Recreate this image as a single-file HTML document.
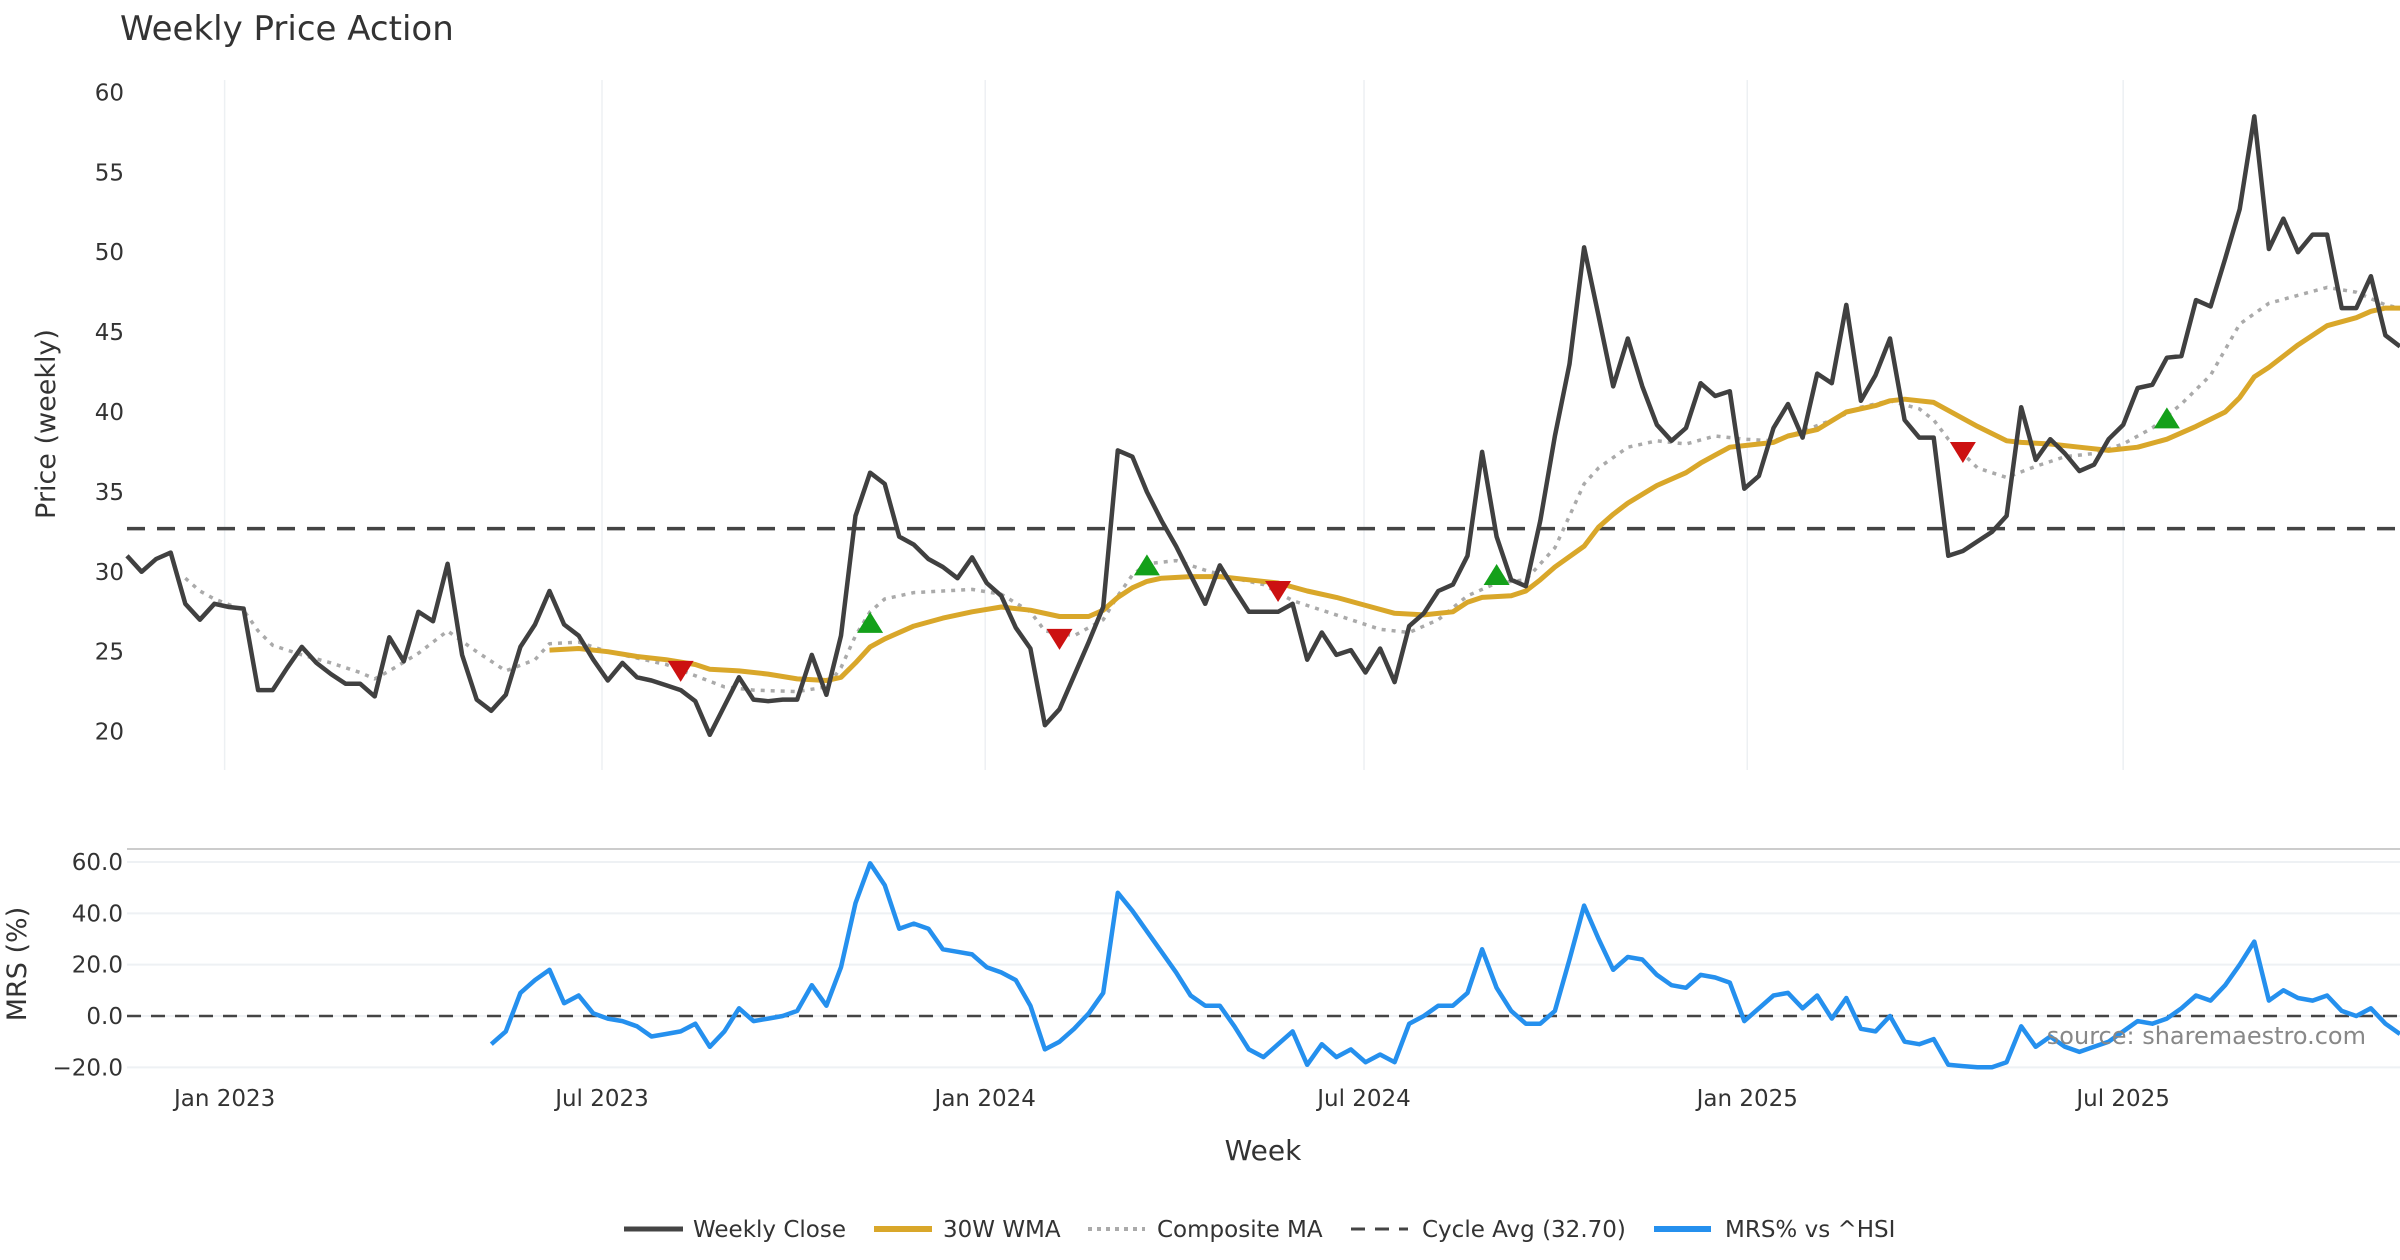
<!DOCTYPE html>
<html><head><meta charset="utf-8"><style>
html,body{margin:0;padding:0;background:#fff;}
svg{display:block;font-family:"DejaVu Sans","Liberation Sans",sans-serif;}
</style></head><body>
<svg id="chart" width="2400" height="1260" viewBox="0 0 2400 1260" xmlns="http://www.w3.org/2000/svg">
<rect width="2400" height="1260" fill="#fff"/>
<text x="120" y="40" font-size="34" fill="#333">Weekly Price Action</text>
<text transform="translate(55,424) rotate(-90)" text-anchor="middle" font-size="27" fill="#333">Price (weekly)</text>
<text transform="translate(26,964) rotate(-90)" text-anchor="middle" font-size="27" fill="#333">MRS (%)</text>
<text x="1263" y="1160" text-anchor="middle" font-size="28" fill="#333">Week</text>
<line x1="127" y1="849" x2="2400" y2="849" stroke="#ccc" stroke-width="2"/>
<g id="grid"></g>
<g id="series"></g>
<text x="2366" y="1044" text-anchor="end" font-size="24" fill="#888">source: sharemaestro.com</text>
<g id="legend">
<line x1="624" y1="1229" x2="683" y2="1229" stroke="#444" stroke-width="5"/>
<text x="693" y="1237" font-size="23" fill="#333">Weekly Close</text>
<line x1="874" y1="1229" x2="932" y2="1229" stroke="#d9a72a" stroke-width="6"/>
<text x="943" y="1237" font-size="23" fill="#333">30W WMA</text>
<line x1="1088" y1="1229" x2="1145" y2="1229" stroke="#aaa" stroke-width="4" stroke-dasharray="4,5"/>
<text x="1157" y="1237" font-size="23" fill="#333">Composite MA</text>
<line x1="1351" y1="1229" x2="1408" y2="1229" stroke="#444" stroke-width="3" stroke-dasharray="14,10"/>
<text x="1422" y="1237" font-size="23" fill="#333">Cycle Avg (32.70)</text>
<line x1="1654" y1="1229" x2="1711" y2="1229" stroke="#2590ee" stroke-width="6"/>
<text x="1725" y="1237" font-size="23" fill="#333">MRS% vs ^HSI</text>
</g>
</svg>
<script>
const closeValues=[31,30,30.8,31.2,28,27,28,27.8,27.7,22.6,22.6,24,25.3,24.3,23.6,23,23,22.2,25.9,24.4,27.5,26.9,30.5,24.8,22,21.3,22.3,25.3,26.7,28.8,26.7,26,24.5,23.2,24.3,23.4,23.2,22.9,22.6,21.9,19.8,21.6,23.4,22,21.9,22,22,24.8,22.3,26,33.5,36.2,35.5,32.2,31.7,30.8,30.3,29.6,30.9,29.3,28.5,26.5,25.2,20.4,21.4,23.5,25.6,27.8,37.6,37.2,35,33.2,31.6,29.8,28,30.4,28.9,27.5,27.5,27.5,28,24.5,26.2,24.8,25.1,23.7,25.2,23.1,26.6,27.4,28.8,29.2,31,37.5,32.2,29.5,29.1,33.2,38.5,43,50.3,46,41.6,44.6,41.6,39.2,38.2,39,41.8,41,41.3,35.2,36,39,40.5,38.4,42.4,41.8,46.7,40.7,42.3,44.6,39.5,38.4,38.4,31,31.3,31.9,32.5,33.5,40.3,37,38.3,37.4,36.3,36.7,38.3,39.2,41.5,41.7,43.4,43.5,47,46.6,49.6,52.7,58.5,50.2,52.1,50,51.1,51.1,46.5,46.5,48.5,44.8,44.1];
const wmaWeeks=[29,31,33,35,37,39,40,42,44,46,48,49,50,51,52,54,56,58,60,62,64,66,67,68,69,70,71,73,75,77,79,81,83,85,87,89,91,92,93,95,96,97,98,100,101,102,103,105,107,108,109,110,111,113,114,116,118,120,121,122,124,125,127,129,130,132,134,136,138,140,142,144,145,146,147,149,151,153,154,155,156];
const wmaValues=[25.1,25.2,25,24.7,24.5,24.2,23.9,23.8,23.6,23.3,23.2,23.4,24.3,25.3,25.8,26.6,27.1,27.5,27.8,27.6,27.2,27.2,27.6,28.4,29,29.4,29.6,29.7,29.7,29.5,29.3,28.8,28.4,27.9,27.4,27.3,27.5,28.1,28.4,28.5,28.8,29.5,30.3,31.6,32.8,33.6,34.3,35.4,36.2,36.8,37.3,37.8,37.9,38.1,38.5,38.9,40,40.4,40.7,40.8,40.6,40.1,39.1,38.2,38.1,38,37.8,37.6,37.8,38.3,39.1,40,40.9,42.2,42.8,44.2,45.4,45.9,46.3,46.5,46.5];
const maWeeks=[4,5,6,8,9,10,12,14,16,17,18,20,22,24,26,28,29,31,33,35,37,39,41,43,46,48,49,50,51,52,54,56,58,60,62,63,65,67,68,69,70,72,74,76,78,80,82,84,86,88,90,92,94,96,98,99,100,101,103,105,107,109,111,113,115,117,119,121,123,124,125,127,129,131,133,135,137,139,141,143,145,147,149,151,153,155,156];
const maValues=[29.6,28.8,28.3,27.6,26.3,25.4,24.8,24.3,23.7,23.3,23.8,24.9,26.3,25,23.8,24.5,25.5,25.6,25,24.6,24.2,23.5,22.8,22.6,22.5,22.8,24,26,27.5,28.3,28.7,28.8,28.9,28.6,27.5,26.3,26,27,28.5,29.8,30.5,30.7,30.1,29.6,29.2,28.2,27.6,27,26.4,26.2,27,28.5,29.3,29.5,31.5,33.5,35.5,36.5,37.8,38.2,38,38.5,38.3,38.2,38.8,39.5,40.3,40.7,40.2,39.5,38.3,36.5,35.9,36.6,37.2,37.4,38,39,40.5,42.3,45.5,46.8,47.3,47.8,47.5,46.7,46.5];
const mrsValues=[-11,-6,9,14,18,5,8,1,-1,-2,-4,-8,-7,-6,-3,-12,-6,3,-2,-1,0,2,12,4,19,44,59.5,51,34,36,34,26,25,24,19,17,14,4,-13,-10,-5,1,9,48,41,33,25,17,8,4,4,-4,-13,-16,-11,-6,-19,-11,-16,-13,-18,-15,-18,-3,0,4,4,9,26,11,2,-3,-3,2,22,43,30,18,23,22,16,12,11,16,15,13,-2,3,8,9,3,8,-1,7,-5,-6,0,-10,-11,-9,-19,-19.5,-20,-20,-18,-4,-12,-8,-12,-14,-12,-10,-6,-2,-3,-1,3,8,6,12,20,29,6,10,7,6,8,2,0,3,-3,-7];
const upSignalWeeks=[51,70,94,140];
const upSignalValues=[26.8,30.4,29.8,39.6];
const downSignalWeeks=[38,64,79,126];
const downSignalValues=[23.8,25.8,28.8,37.5];
const cycleAvg=32.7;
const priceTicks=[20,25,30,35,40,45,50,55,60];
const mrsTicks=[-20,0,20,40,60];
const monthLabels=["Jan 2023","Jul 2023","Jan 2024","Jul 2024","Jan 2025","Jul 2025"];
const monthWeeks=[6.7,32.6,58.9,84.9,111.2,137.0];

const NS="http://www.w3.org/2000/svg";
const X0=127,X1=2400;
const N=closeValues.length;
const dx=(X1-X0)/(N-1);
const xs=i=>X0+i*dx;
const yP=v=>731.6-(v-20)*15.98;
const yM=v=>1016-v*2.567;
const grid=document.getElementById('grid');
const series=document.getElementById('series');
function mk(tag,attrs,parent){const e=document.createElementNS(NS,tag);for(const k in attrs)e.setAttribute(k,attrs[k]);parent.appendChild(e);return e;}

monthWeeks.forEach((w,k)=>{
  const x=xs(w);
  const gl=mk('line',{x1:x,y1:80,x2:x,y2:770,stroke:'#edf0f3','stroke-width':1.5},grid);
  
  
  const t=mk('text',{x:x,y:1106,'text-anchor':'middle','font-size':23,fill:'#333'},grid);
  t.textContent=monthLabels[k];
  
  
});
priceTicks.forEach(v=>{
  const t=mk('text',{x:124,y:yP(v)+8,'text-anchor':'end','font-size':23,fill:'#333'},grid);
  t.textContent=String(v);
  
  
});
mrsTicks.forEach(v=>{
  const gl=mk('line',{x1:127,y1:yM(v),x2:2400,y2:yM(v),stroke:'#eef1f4','stroke-width':2},grid);
  
  
  const t=mk('text',{x:123,y:yM(v)+8,'text-anchor':'end','font-size':23,fill:'#333'},grid);
  t.textContent=(v<0?'\u2212':'')+Math.abs(v).toFixed(1);
  
  
});

function poly(weeks,vals,yf,attrs,name){
  const pts=vals.map((v,k)=>xs(weeks(k)).toFixed(1)+','+yf(v).toFixed(1)).join(' ');
  const p=mk('polyline',Object.assign({points:pts,fill:'none','stroke-linejoin':'round'},attrs),series);
  
  
}
const cl=mk('line',{x1:X0,y1:yP(cycleAvg),x2:X1,y2:yP(cycleAvg),stroke:'#444','stroke-width':3.5,'stroke-dasharray':'18,12'},series);


poly(k=>maWeeks[k],maValues,yP,{stroke:'#aaa','stroke-width':3.5,'stroke-dasharray':'4,6'},'composite-ma-line');
poly(k=>wmaWeeks[k],wmaValues,yP,{stroke:'#d9a72a','stroke-width':5},'wma-30w-line');
poly(k=>k,closeValues,yP,{stroke:'#404040','stroke-width':4.5},'weekly-close-line');
upSignalWeeks.forEach((w,k)=>{
  const x=xs(w),y=yP(upSignalValues[k]);
  const t=mk('polygon',{points:`${x-13},${y+10} ${x+13},${y+10} ${x},${y-11}`,fill:'#14a01a'},series);
  
  
});
downSignalWeeks.forEach((w,k)=>{
  const x=xs(w),y=yP(downSignalValues[k]);
  const t=mk('polygon',{points:`${x-13},${y-10} ${x+13},${y-10} ${x},${y+11}`,fill:'#cc1111'},series);
  
  
});
const zl=mk('line',{x1:X0,y1:yM(0),x2:X1,y2:yM(0),stroke:'#444','stroke-width':2.5,'stroke-dasharray':'14,10'},series);


const mStart=N-mrsValues.length;
poly(k=>mStart+k,mrsValues,yM,{stroke:'#2590ee','stroke-width':4.5},'mrs-line');
</script>
</body></html>
